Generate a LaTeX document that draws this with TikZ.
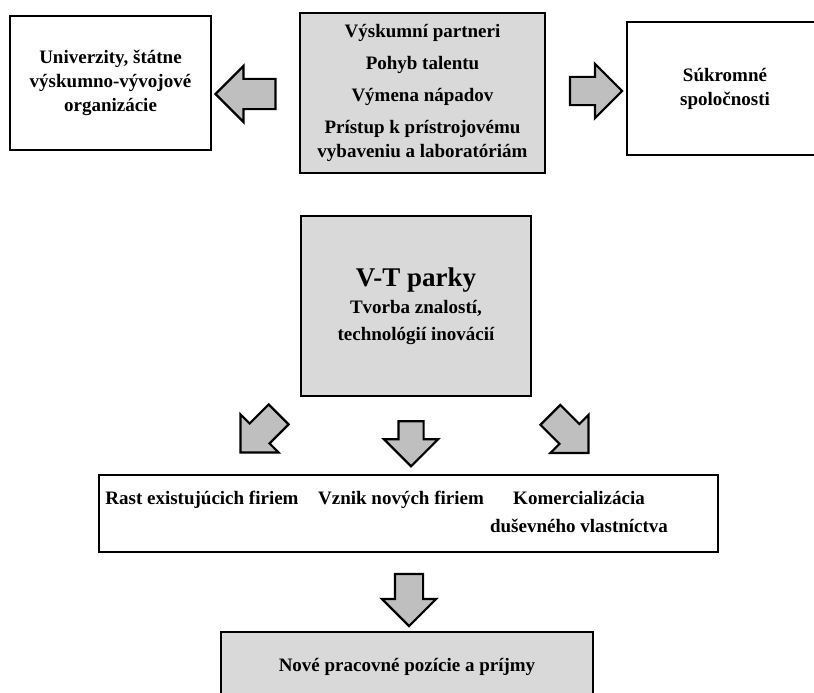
\documentclass[tikz,border=0pt]{standalone}
\usepackage{fontspec}
\setmainfont{Liberation Serif}
\usetikzlibrary{shapes.arrows}
\definecolor{boxgray}{gray}{0.85}
\definecolor{arrowgray}{gray}{0.75}

\begin{document}
\begin{tikzpicture}[x=1pt,y=-1pt,
	box/.style={draw, line width=2.5pt, inner sep=0pt, align=center, font=\bfseries\fontsize{19}{24}\selectfont},
	graybox/.style={box, fill=boxgray},
	rowtext/.style={anchor=north, inner sep=0pt, align=center, font=\bfseries\fontsize{19}{28}\selectfont},
	blockarrow/.style={single arrow, draw, line width=2.2pt, fill=arrowgray, inner xsep=0pt, inner ysep=13pt, single arrow head extend=13pt, minimum height=52pt}]
	\useasboundingbox (0,0) rectangle (814,693);
	\clip (0,0) rectangle (814,693);
	\node[box, minimum width=201pt, minimum height=134pt] (univ) at (110.5,83) {Univerzity, štátne\\výskumno-vývojové\\organizácie};
	\node[graybox, minimum width=245pt, minimum height=160pt] (kanaly) at (422.5,93) {Výskumní partneri\\[8pt]Pohyb talentu\\[8pt]Výmena nápadov\\[8pt]Prístup k prístrojovému\\vybaveniu a laboratóriám};
	\node[box, minimum width=196pt, minimum height=133pt] (firmy) at (725,88.5) {Súkromné\\spoločnosti};
	\node[graybox, minimum width=230pt, minimum height=180pt, font=\bfseries\fontsize{19}{27}\selectfont] (park) at (416,306) {{\fontsize{27}{30}\selectfont V-T parky}\\Tvorba znalostí,\\technológií inovácií};
	\node[box, minimum width=619pt, minimum height=77pt] (vysledky) at (408.5,513.5) {};
	\node[rowtext] (rast) at (202,491) {Rast existujúcich firiem};
	\node[rowtext] (vznik) at (401,491) {Vznik nových firiem};
	\node[rowtext] (komerc) at (579,491) {Komercializácia\\duševného vlastníctva};
	\node[graybox, minimum width=372pt, minimum height=70pt] (prijmy) at (407,667) {Nové pracovné pozície a príjmy};
	\node[blockarrow, rotate=180, minimum height=60pt, inner ysep=14pt] (sipkaL) at (253,94) {};
	\node[blockarrow] (sipkaP) at (589,91) {};
	\node[blockarrow, rotate=225, minimum height=54pt] (sipkaJZ) at (264.5,428.5) {};
	\node[blockarrow, rotate=270, minimum height=45pt, inner ysep=11.5pt, single arrow head extend=14.5pt] (sipkaJ) at (411,437.5) {};
	\node[blockarrow, rotate=315, minimum height=54pt] (sipkaJV) at (564.5,429) {};
	\node[blockarrow, rotate=270] (sipkaDole) at (409,593) {};
\end{tikzpicture}
\end{document}
